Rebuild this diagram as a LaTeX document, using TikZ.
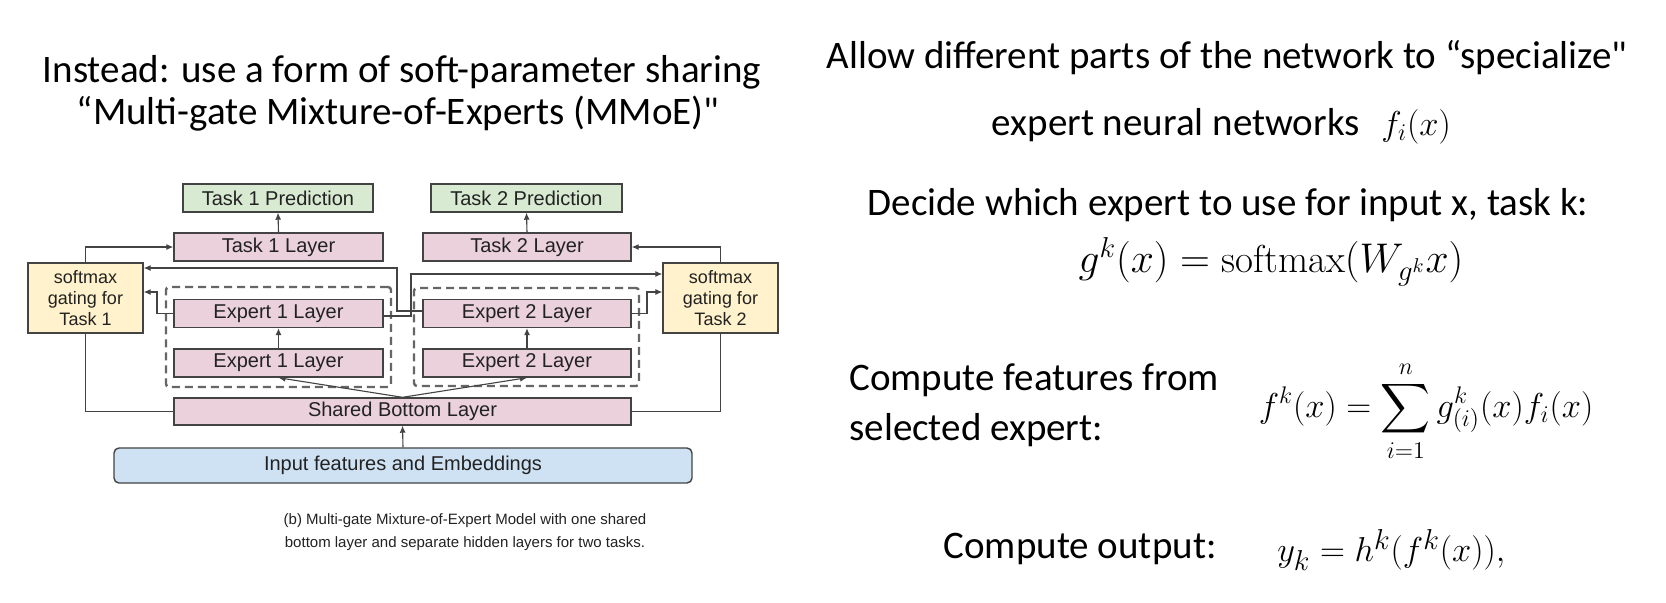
\documentclass[tikz,border=0pt]{standalone}
\usepackage{fontspec}
\usepackage{amsmath}
\usetikzlibrary{arrows.meta,calc}
\newfontfamily\diagfont{Liberation Sans}
\newfontfamily\slidefont{Carlito}
\definecolor{predfill}{HTML}{D9EAD3}
\definecolor{layerfill}{HTML}{EAD1DC}
\definecolor{gatefill}{HTML}{FFF2CC}
\definecolor{inputfill}{HTML}{CFE2F3}
\definecolor{bordc}{HTML}{434343}
\definecolor{dashc}{HTML}{666666}
\definecolor{diagtext}{HTML}{222222}
\tikzset{
  box/.style={draw=bordc, line width=0.7pt, inner sep=0pt, text=diagtext,
    font=\diagfont\fontsize{10}{12}\selectfont, minimum height=14pt},
  predbox/.style={box, fill=predfill},
  layerbox/.style={box, fill=layerfill},
  gatebox/.style={box, fill=gatefill, align=center, minimum width=57.5pt, minimum height=35pt,
    font=\diagfont\fontsize{9}{10.3}\selectfont},
  inputbox/.style={box, fill=inputfill, rounded corners=2.5pt, minimum width=289pt, minimum height=17.5pt},
  dbox/.style={draw=dashc, line width=1.2pt, dash pattern=on 4pt off 2.5pt, rounded corners=1.5pt, inner sep=0pt},
  arr/.style={draw=bordc, line width=0.55pt, -{Latex[length=3.5pt,width=3pt]}},
  conn/.style={draw=bordc, line width=0.55pt},
  slide/.style={font=\slidefont\fontsize{19.5}{25}\selectfont, inner sep=0pt, anchor=center},
  mathtxt/.style={inner sep=0pt, anchor=center},
  captxt/.style={font=\diagfont\fontsize{7.5}{11.5}\selectfont, align=center, inner sep=0pt, text=diagtext}
}
\begin{document}
\begin{tikzpicture}[x=0.5pt,y=-0.5pt]
\useasboundingbox[fill=white] (0,0) rectangle (1666,602);
% slide texts
\node[slide] (title1) at (402,72) {Instead: use a form of soft-parameter sharing};
\node[slide] (title2) at (398,114) {“Multi-gate Mixture-of-Experts (MMoE)"};
\node[slide] (r1) at (1227,58) {Allow different parts of the network to “specialize"};
\node[slide, anchor=east] (r2) at (1360,125) {expert neural networks};
\node[mathtxt, anchor=west, font=\fontsize{18}{20}\selectfont] (r2m) at (1381,127) {$f_i(x)$};
\node[slide] (r3) at (1228,205) {Decide which expert to use for input x, task k:};
\node[mathtxt, font=\fontsize{19.5}{22}\selectfont] (r4) at (1271,262) {$g^k(x) = \mathrm{softmax}(W_{g^k}x)$};
\node[slide, align=left, anchor=west] (r5) at (849,405) {Compute features from\\selected expert:};
\node[mathtxt, font=\fontsize{18.5}{22}\selectfont] (r6) at (1426,411) {$\displaystyle f^k(x) = \sum_{i=1}^{n} g^k_{(i)}(x) f_i(x)$};
\node[slide, anchor=east] (r7) at (1217,549) {Compute output:};
\node[mathtxt, anchor=west, font=\fontsize{19}{22}\selectfont] (r8) at (1277,550) {$y_k = h^k(f^k(x)),$};
% diagram
\node[dbox, minimum width=112.5pt, minimum height=50pt] (d1) at (278.5,337) {};
\node[dbox, minimum width=112.5pt, minimum height=49pt] (d2) at (526.5,337) {};
\node[predbox, minimum width=95pt] (p1) at (278,198) {Task 1 Prediction};
\node[predbox, minimum width=95.5pt] (p2) at (526.5,198) {Task 2 Prediction};
\node[layerbox, minimum width=104.5pt] (t1) at (278.5,247) {Task 1 Layer};
\node[layerbox, minimum width=104pt] (t2) at (527,247) {Task 2 Layer};
\node[layerbox, minimum width=104.5pt] (e1u) at (278.5,313.5) {Expert 1 Layer};
\node[layerbox, minimum width=104.5pt] (e1l) at (278.5,363) {Expert 1 Layer};
\node[layerbox, minimum width=104pt] (e2u) at (527,313.5) {Expert 2 Layer};
\node[layerbox, minimum width=104pt] (e2l) at (527,363) {Expert 2 Layer};
\node[layerbox, minimum width=228.5pt, minimum height=13.5pt] (sb) at (402.5,411.5) {Shared Bottom Layer};
\node[inputbox] (inp) at (403,465.5) {Input features and Embeddings};
\node[gatebox] (g1) at (85.5,298) {softmax\\gating for\\Task 1};
\node[gatebox] (g2) at (720.5,298) {softmax\\gating for\\Task 2};
\node[captxt] (cap) at (465,532.5) {(b) Multi-gate Mixture-of-Expert Model with one shared\\bottom layer and separate hidden layers for two tasks.};
% connectors
\coordinate (a1) at (157,292);
\coordinate (a2) at (647,292);
\coordinate (b1) at (411,274);
\coordinate (b2) at (397,268);
\draw[arr] (t1.north) -- (p1.south);
\draw[arr] (t2.north) -- (p2.south);
\draw[arr] (e1l.north) -- (e1u.south);
\draw[arr] (e2l.north) -- (e2u.south);
\draw[arr] (sb.north) -- (e1l.south);
\draw[arr] (sb.north) -- (e2l.south);
\draw[arr] (inp.north) -- (sb.south);
\draw[arr] (g1.north) |- (t1.west);
\draw[arr] (g2.north) |- (t2.east);
\draw[conn] (g1.south) |- (sb.west);
\draw[conn] (g2.south) |- (sb.east);
\draw[arr] (e1u.west) -| (a1) -- (g1.east |- a1);
\draw[arr] (e2u.east) -| (a2) -- (g2.west |- a2);
\draw[arr] ($(e1u.east)+(0,2.5)$) -| (b1) -- (g2.west |- b1);
\draw[arr] ($(e2u.west)+(0,-2.5)$) -| (b2) -- (g1.east |- b2);
\end{tikzpicture}
\end{document}
